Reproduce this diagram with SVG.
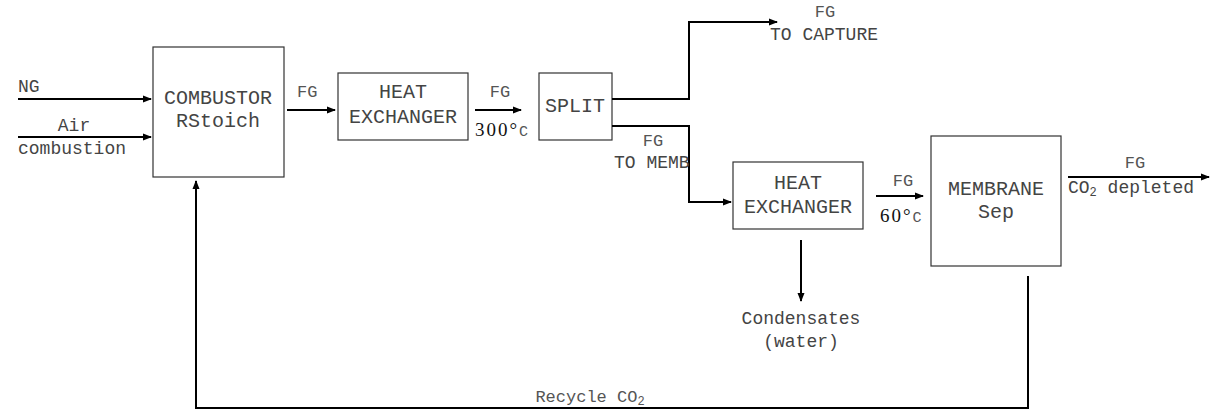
<svg xmlns="http://www.w3.org/2000/svg" width="1211" height="415" viewBox="0 0 1211 415">
<style>
.box{fill:#fff;stroke:#333;stroke-width:1.2}
.ln{fill:none;stroke:#000;stroke-width:2}
.t{font-family:"Liberation Mono",monospace;font-size:18px;fill:#444}
.b{font-family:"Liberation Mono",monospace;font-size:20px;fill:#444}
.s{font-family:"Liberation Mono",monospace;font-size:17px;fill:#555}
.d{font-family:"Liberation Serif",serif;font-size:19px;letter-spacing:2px;fill:#111}
.m{text-anchor:middle}
</style>
<defs>
<marker id="ah" markerWidth="9" markerHeight="8" refX="8" refY="4" orient="auto" markerUnits="userSpaceOnUse">
<path d="M0,0.5 L9,4 L0,7.5 Z" fill="#000"/>
</marker>
</defs>
<rect width="1211" height="415" fill="#fff"/>
<g id="combustor">
<rect class="box" x="153" y="47" width="131" height="130"/>
<text class="b m" x="218" y="104">COMBUSTOR</text>
<text class="b m" x="218" y="127">RStoich</text>
</g>
<g id="hx1">
<rect class="box" x="338" y="73" width="130" height="67"/>
<text class="b m" x="403" y="98">HEAT</text>
<text class="b m" x="403" y="123">EXCHANGER</text>
</g>
<g id="split">
<rect class="box" x="539" y="73" width="73" height="67"/>
<text class="b m" x="575" y="112">SPLIT</text>
</g>
<g id="hx2">
<rect class="box" x="733" y="162" width="130" height="67"/>
<text class="b m" x="798" y="189">HEAT</text>
<text class="b m" x="798" y="213">EXCHANGER</text>
</g>
<g id="membrane">
<rect class="box" x="931" y="136" width="130" height="130"/>
<text class="b m" x="996" y="195">MEMBRANE</text>
<text class="b m" x="996" y="218">Sep</text>
</g>
<g id="connectors">
<line class="ln" x1="18" y1="99" x2="151" y2="99" marker-end="url(#ah)"/>
<line class="ln" x1="18" y1="137" x2="151" y2="137" marker-end="url(#ah)"/>
<line class="ln" x1="287" y1="110" x2="335" y2="110" marker-end="url(#ah)"/>
<line class="ln" x1="475" y1="110" x2="521" y2="110" marker-end="url(#ah)"/>
<polyline class="ln" points="612,99 689,99 689,22 777,22" marker-end="url(#ah)"/>
<polyline class="ln" points="612,126 689,126 689,202 731,202" marker-end="url(#ah)"/>
<line class="ln" x1="876" y1="196" x2="923" y2="196" marker-end="url(#ah)"/>
<line class="ln" x1="1068" y1="177" x2="1209" y2="177" marker-end="url(#ah)"/>
<line class="ln" x1="801" y1="240" x2="801" y2="301" marker-end="url(#ah)"/>
<polyline class="ln" points="1028,276 1028,408 196,408 196,181" marker-end="url(#ah)"/>
</g>
<g id="labels">
<text class="t" x="18" y="92">NG</text>
<text class="t m" x="74" y="131">Air</text>
<text class="t" x="18" y="154">combustion</text>
<text class="s" x="297" y="97">FG</text>
<text class="s m" x="500" y="97">FG</text>
<text class="d" x="475" y="136">300°<tspan font-family="Liberation Mono" font-size="15" fill="#555" letter-spacing="0">C</tspan></text>
<text class="s m" x="825" y="17">FG</text>
<text class="t" x="770" y="40">TO CAPTURE</text>
<text class="s m" x="653" y="146">FG</text>
<text class="t" x="614" y="168">TO MEMB</text>
<text class="s m" x="903" y="186">FG</text>
<text class="d" x="880" y="222">60°<tspan font-family="Liberation Mono" font-size="15" fill="#555" letter-spacing="0">C</tspan></text>
<text class="s m" x="1135" y="168">FG</text>
<text class="t" x="1068" y="193">CO<tspan font-size="12" dy="3">2</tspan><tspan dy="-3"> depleted</tspan></text>
<text class="t m" x="801" y="324">Condensates</text>
<text class="t m" x="801" y="347">(water)</text>
<text class="s m" x="590" y="402">Recycle CO<tspan font-size="12" dy="3">2</tspan></text>
</g>
</svg>
